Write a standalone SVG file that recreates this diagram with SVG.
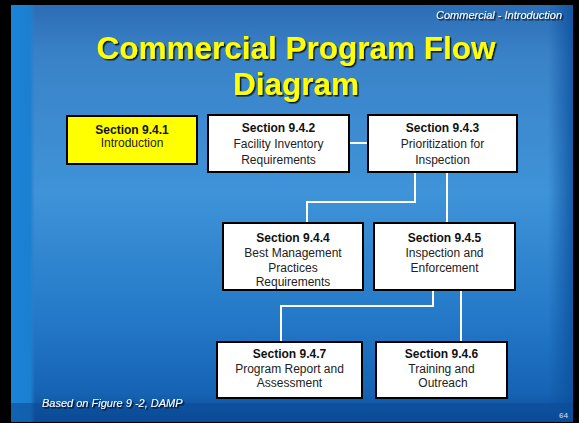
<svg xmlns="http://www.w3.org/2000/svg" width="579" height="423" viewBox="0 0 579 423">
<defs>
<linearGradient id="bg" x1="0" y1="0" x2="0" y2="1">
<stop offset="0" stop-color="#2c6db5"/>
<stop offset="0.12" stop-color="#3a82c8"/>
<stop offset="0.45" stop-color="#3f93d8"/>
<stop offset="0.75" stop-color="#2479c8"/>
<stop offset="0.93" stop-color="#1663b4"/>
<stop offset="1" stop-color="#0a4894"/>
</linearGradient>
<linearGradient id="strip" x1="0" y1="0" x2="1" y2="0">
<stop offset="0" stop-color="#1a84d8"/>
<stop offset="0.8" stop-color="#1c7fd0"/>
<stop offset="1" stop-color="#2f7fc8" stop-opacity="0"/>
</linearGradient>
<linearGradient id="redge" x1="0" y1="0" x2="1" y2="0">
<stop offset="0" stop-color="#0b4f9c" stop-opacity="0"/>
<stop offset="1" stop-color="#0b4f9c" stop-opacity="0.8"/>
</linearGradient>
<filter id="sh" x="-5%" y="-20%" width="115%" height="150%">
<feDropShadow dx="1.5" dy="1.5" stdDeviation="0.4" flood-color="#000" flood-opacity="0.85"/>
</filter>
</defs>
<style>
.box{fill:#fff;stroke:#000;stroke-width:2}
.yel{fill:#ffff00;stroke:#000;stroke-width:2}
.sec{font-family:"Liberation Sans",Arial,sans-serif;font-weight:bold;font-size:12px;fill:#111;text-anchor:middle}
.bd{font-family:"Liberation Sans",Arial,sans-serif;font-size:12px;fill:#222;text-anchor:middle}
.ln{stroke:#fff;stroke-width:2;fill:none}
.title{font-family:"Liberation Sans",Arial,sans-serif;font-weight:bold;font-size:31.5px;fill:#ffff00;text-anchor:middle}
.it{font-family:"Liberation Sans",Arial,sans-serif;font-style:italic;font-size:11px;fill:#fff}
</style>
<rect width="579" height="423" fill="#000"/>
<rect x="11" y="5" width="562" height="417" fill="url(#bg)"/>
<rect x="11" y="5" width="24" height="417" fill="url(#strip)"/>
<rect x="548" y="5" width="25" height="417" fill="url(#redge)"/>
<rect x="11" y="403" width="562" height="19" fill="#0b4c98" opacity="0.6"/>

<text class="it" x="562" y="19" text-anchor="end" filter="url(#sh)">Commercial - Introduction</text>
<text class="title" x="296" y="59" filter="url(#sh)">Commercial Program Flow</text>
<text class="title" x="296" y="95" filter="url(#sh)">Diagram</text>
<text class="it" x="42" y="407" font-size="10" filter="url(#sh)">Based on Figure 9 -2, DAMP</text>
<text x="568" y="418" text-anchor="end" font-family="Liberation Sans,Arial,sans-serif" font-weight="bold" font-size="8" fill="#a8bcd8">64</text>

<g id="connectors">
<line class="ln" x1="349" y1="143" x2="368" y2="143"/>
<polyline class="ln" points="415,172 415,202 307,202 307,223"/>
<line class="ln" x1="447" y1="172" x2="447" y2="223"/>
<polyline class="ln" points="433,290 433,306 281,306 281,342"/>
<polyline class="ln" points="461,290 461,306 461,342"/>
</g>

<g id="s941">
<rect class="yel" x="67" y="116" width="130" height="48"/>
<text class="sec" x="132" y="134">Section 9.4.1</text>
<text class="bd" x="132" y="147">Introduction</text>
</g>
<g id="s942">
<rect class="box" x="208" y="115" width="141" height="57"/>
<text class="sec" x="278.5" y="132">Section 9.4.2</text>
<text class="bd" x="278.5" y="148">Facility Inventory</text>
<text class="bd" x="278.5" y="164">Requirements</text>
</g>
<g id="s943">
<rect class="box" x="368" y="115" width="149" height="57"/>
<text class="sec" x="442.5" y="132">Section 9.4.3</text>
<text class="bd" x="442.5" y="148">Prioritization for</text>
<text class="bd" x="442.5" y="164">Inspection</text>
</g>
<g id="s944">
<rect class="box" x="223" y="223" width="140" height="67"/>
<text class="sec" x="293" y="242">Section 9.4.4</text>
<text class="bd" x="293" y="257">Best Management</text>
<text class="bd" x="293" y="272">Practices</text>
<text class="bd" x="293" y="286">Requirements</text>
</g>
<g id="s945">
<rect class="box" x="374" y="223" width="141" height="67"/>
<text class="sec" x="444.5" y="242">Section 9.4.5</text>
<text class="bd" x="444.5" y="257">Inspection and</text>
<text class="bd" x="444.5" y="272">Enforcement</text>
</g>
<g id="s947">
<rect class="box" x="217" y="342" width="145" height="56"/>
<text class="sec" x="289.5" y="358">Section 9.4.7</text>
<text class="bd" x="289.5" y="373">Program Report and</text>
<text class="bd" x="289.5" y="387">Assessment</text>
</g>
<g id="s946">
<rect class="box" x="376" y="342" width="131" height="56"/>
<text class="sec" x="441.5" y="358">Section 9.4.6</text>
<text class="bd" x="441.5" y="373">Training and</text>
<text class="bd" x="443" y="387">Outreach</text>
</g>
</svg>
